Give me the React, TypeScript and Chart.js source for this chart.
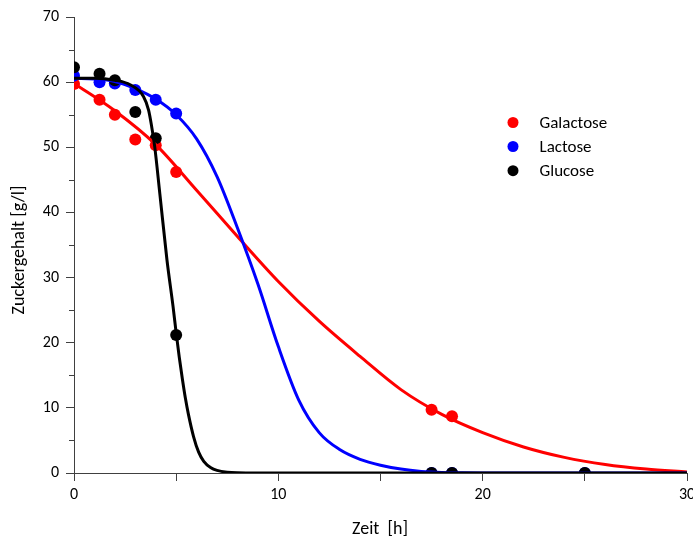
import React, { useEffect, useRef } from "react";
import { Chart, registerables } from "chart.js";

Chart.register(...registerables);

// Measured points
const galX = [0, 1.25, 2, 3, 4, 5, 17.5, 18.5];
const galY = [59.7, 57.3, 55.0, 51.2, 50.3, 46.2, 9.7, 8.7];
const lacX = [0, 1.25, 2, 3, 4, 5, 17.5, 18.5, 25];
const lacY = [61.0, 60.0, 59.8, 58.8, 57.3, 55.2, 0, 0, 0];
const gluX = [0, 1.25, 2, 3, 4, 5, 17.5, 18.5, 25];
const gluY = [62.3, 61.3, 60.3, 55.4, 51.4, 21.2, 0, 0, 0];

// Fitted curves
const galFitX = [0, 2, 4, 6, 8, 10, 12, 14, 16, 18, 20, 22, 24, 26, 28, 30];
const galFitY = [59.8, 55.6, 50.4, 43.4, 36.3, 29.4, 23.3, 17.9, 12.8, 9.0, 6.2, 4.0, 2.4, 1.3, 0.6, 0.15];
const lacFitX = [0, 1, 2, 3, 4, 5, 6, 7, 8, 9, 10, 11, 12, 13, 14, 15, 16, 17, 18, 19, 20, 30];
const lacFitY = [60.6, 60.5, 60.1, 59.0, 57.4, 55.0, 51.3, 45.5, 37.6, 29.0, 19.4, 11.2, 6.2, 3.6, 2.1, 1.2, 0.6, 0.25, 0.08, 0.02, 0, 0];
const gluFitX = [0, 1, 2, 2.75, 3.4, 3.65, 3.8, 3.95, 4.2, 4.55, 4.85, 5.0, 5.15, 5.3, 5.45, 5.6, 5.85, 6.1, 6.35, 6.7, 7.0, 7.5, 8, 9, 30];
const gluFitY = [60.6, 60.6, 60.3, 59.6, 57.8, 55.7, 53.2, 50.1, 42.9, 32.7, 25.5, 21.5, 17.8, 14.5, 11.5, 9.0, 5.6, 3.2, 1.8, 0.8, 0.4, 0.12, 0.03, 0, 0];

const xTicksLabeled = [0, 10, 20, 30];
const yTicksLabeled = [0, 10, 20, 30, 40, 50, 60, 70];

const seriesNames = ["Galactose", "Lactose", "Glucose"];
const seriesColors = ["#ff0000", "#0000ff", "#000000"];

const FONT = 'Carlito, Lato, "Open Sans", sans-serif';
const AXIS = "#404040";

const pts = (xs: number[], ys: number[]) => xs.map((x, i) => ({ x, y: ys[i] }));

export default function App() {
  const ref = useRef<HTMLCanvasElement | null>(null);
  useEffect(() => {
    if (!ref.current) return;
    const extras = {
      id: "extras",
      afterDatasetsDraw(chart: any) {
        const ctx = chart.ctx;
        const y = chart.scales.y;
        ctx.save();
        ctx.strokeStyle = AXIS;
        ctx.lineWidth = 1;
        for (let v = 5; v < 70; v += 10) {
          const py = Math.round(y.getPixelForValue(v)) + 0.5;
          ctx.beginPath();
          ctx.moveTo(chart.chartArea.left - 5, py);
          ctx.lineTo(chart.chartArea.left, py);
          ctx.stroke();
        }
        ctx.restore();
      },
      afterDraw(chart: any) {
        const ctx = chart.ctx;
        ctx.save();
        ctx.fillStyle = "#000";
        ctx.font = `18px ${FONT}`;
        ctx.textAlign = "center";
        ctx.textBaseline = "middle";
        ctx.fillText("Zeit  [h]", 380, 529);
        ctx.translate(19, 250);
        ctx.rotate(-Math.PI / 2);
        ctx.fillText("Zuckergehalt [g/l]", 0, 0);
        ctx.restore();
        ctx.save();
        ctx.font = `17px ${FONT}`;
        ctx.textAlign = "left";
        ctx.textBaseline = "middle";
        const ys = [122.5, 146.5, 170.7];
        seriesNames.forEach((n, i) => {
          ctx.fillStyle = seriesColors[i];
          ctx.beginPath();
          ctx.arc(513, ys[i], 5.5, 0, Math.PI * 2);
          ctx.fill();
          ctx.fillStyle = "#000";
          ctx.fillText(n, 539.5, ys[i] + 1);
        });
        ctx.restore();
      },
    };
    const curve = (data: any[], color: string, order: number) => ({
      data,
      showLine: true,
      borderColor: color,
      backgroundColor: color,
      borderWidth: 3,
      pointRadius: 0,
      cubicInterpolationMode: "monotone",
      order,
    });
    const dots = (data: any[], color: string, order: number) => ({
      data,
      showLine: false,
      borderColor: color,
      backgroundColor: color,
      pointRadius: 6,
      pointBorderWidth: 0,
      order,
    });
    const chart = new Chart(ref.current, {
      type: "scatter",
      data: {
        datasets: [
          curve(pts(gluFitX, gluFitY), seriesColors[2], 0),
          curve(pts(lacFitX, lacFitY), seriesColors[1], 1),
          curve(pts(galFitX, galFitY), seriesColors[0], 2),
          dots(pts(gluX, gluY), seriesColors[2], 3),
          dots(pts(lacX, lacY), seriesColors[1], 4),
          dots(pts(galX, galY), seriesColors[0], 5),
        ] as any,
      },
      options: {
        animation: false,
        responsive: false,
        layout: { padding: { left: 0, top: 17, right: 6, bottom: 0 } },
        plugins: { legend: { display: false }, tooltip: { enabled: false } },
        scales: {
          x: {
            type: "linear",
            min: 0,
            max: 30,
            afterFit(s: any) {
              s.height = 68;
              s.paddingLeft = 0;
              s.paddingRight = 0;
            },
            ticks: {
              stepSize: 5,
              autoSkip: false,
              maxRotation: 0,
              padding: 4,
              color: "#000",
              font: { family: FONT, size: 16 },
              callback: (v: any) => (xTicksLabeled.includes(v) ? String(v) : ""),
            },
            grid: {
              drawOnChartArea: false,
              drawTicks: true,
              tickLength: 8,
              tickColor: AXIS,
              color: AXIS,
            },
            border: { display: true, color: AXIS, width: 1 },
          },
          y: {
            type: "linear",
            min: 0,
            max: 70,
            afterFit(s: any) {
              s.width = 74;
              s.paddingTop = 0;
              s.paddingBottom = 0;
            },
            ticks: {
              stepSize: 10,
              autoSkip: false,
              padding: 7,
              color: "#000",
              font: { family: FONT, size: 16 },
              callback: (v: any) => (yTicksLabeled.includes(v) ? String(v) : ""),
            },
            grid: {
              drawOnChartArea: false,
              drawTicks: true,
              tickLength: 8,
              tickColor: AXIS,
              color: AXIS,
            },
            border: { display: true, color: AXIS, width: 1 },
          },
        },
      },
      plugins: [extras],
    });
    return () => chart.destroy();
  }, []);
  return (
    <div style={{ position: "fixed", left: 0, top: 0, width: 693, height: 541, background: "#fff" }}>
      <canvas ref={ref} width={693} height={541} />
    </div>
  );
}
